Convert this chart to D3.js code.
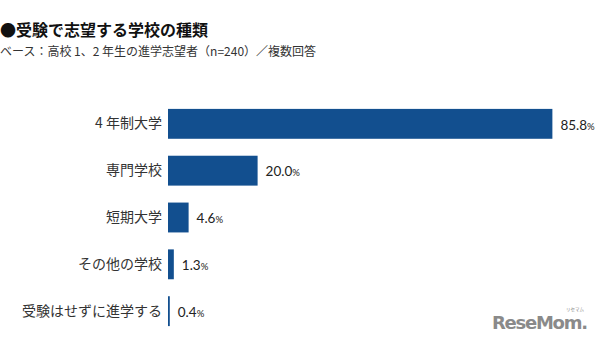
<!DOCTYPE html>
<html>
<head>
<meta charset="utf-8">
<script src="https://cdn.jsdelivr.net/npm/d3@7/dist/d3.min.js"></script>
<style>
  html, body { margin: 0; padding: 0; background: #fff; }
  svg { display: block; font-family: "Noto Sans CJK JP", "Noto Sans", sans-serif; }
</style>
</head>
<body>
<svg id="chart" width="600" height="345"></svg>
<script>
// Survey categories and their shares (%)
const categories = ["4 年制大学", "専門学校", "短期大学", "その他の学校", "受験はせずに進学する"];
const values = [85.8, 20.0, 4.6, 1.3, 0.4];

const titleText = "●受験で志望する学校の種類";
const subtitleText = "ベース：高校 1、2 年生の進学志望者（n=240）／複数回答";

const svg = d3.select("#chart");
const barColor = "#124f8f";

const x = d3.scaleLinear().domain([0, 100]).range([168, 616]);
const y = d3.scaleBand().domain(categories).range([100, 335]).paddingInner(0.362).paddingOuter(0.19);

// Title block
svg.append("text")
  .attr("x", 0).attr("y", 36)
  .attr("font-size", 16).attr("font-weight", 700).attr("fill", "#111")
  .text(titleText);
svg.append("text")
  .attr("x", 0).attr("y", 56)
  .attr("font-size", 12).attr("fill", "#333")
  .text(subtitleText);

// Bars
svg.append("g").selectAll("rect")
  .data(values)
  .join("rect")
  .attr("x", x(0))
  .attr("y", (d, i) => y(categories[i]))
  .attr("width", d => x(d) - x(0))
  .attr("height", y.bandwidth())
  .attr("fill", barColor);

// Category labels
const yAxis = d3.axisLeft(y).tickSize(0).tickPadding(6);
const ag = svg.append("g").attr("transform", `translate(${x(0)},0)`).call(yAxis);
ag.select(".domain").remove();
ag.selectAll("text")
  .attr("font-size", 14)
  .attr("fill", "#333")
  .attr("font-family", "'Noto Sans CJK JP', sans-serif");

// Value labels
const vl = svg.append("g").selectAll("text")
  .data(values)
  .join("text")
  .attr("x", d => x(d) + 8)
  .attr("y", (d, i) => y(categories[i]) + y.bandwidth() / 2)
  .attr("dy", "0.36em")
  .attr("fill", "#222")
  .attr("font-family", "Lato, 'Noto Sans', sans-serif");
vl.append("tspan").attr("font-size", 13.5).text(d => d.toFixed(1));
vl.append("tspan").attr("font-size", 9.5).text("%");

// Site mark
const mark = svg.append("g").attr("fill", "#8a8a8a");
mark.append("text")
  .attr("x", 492).attr("y", 329)
  .attr("font-size", 18).attr("font-weight", 900)
  .attr("font-family", "'DejaVu Sans', sans-serif")
  .attr("letter-spacing", -1)
  .attr("textLength", 95)
  .text("ReseMom.");
mark.append("text")
  .attr("x", 575).attr("y", 311)
  .attr("font-size", 4.5).attr("text-anchor", "middle")
  .text("リセマム");
</script>
</body>
</html>
